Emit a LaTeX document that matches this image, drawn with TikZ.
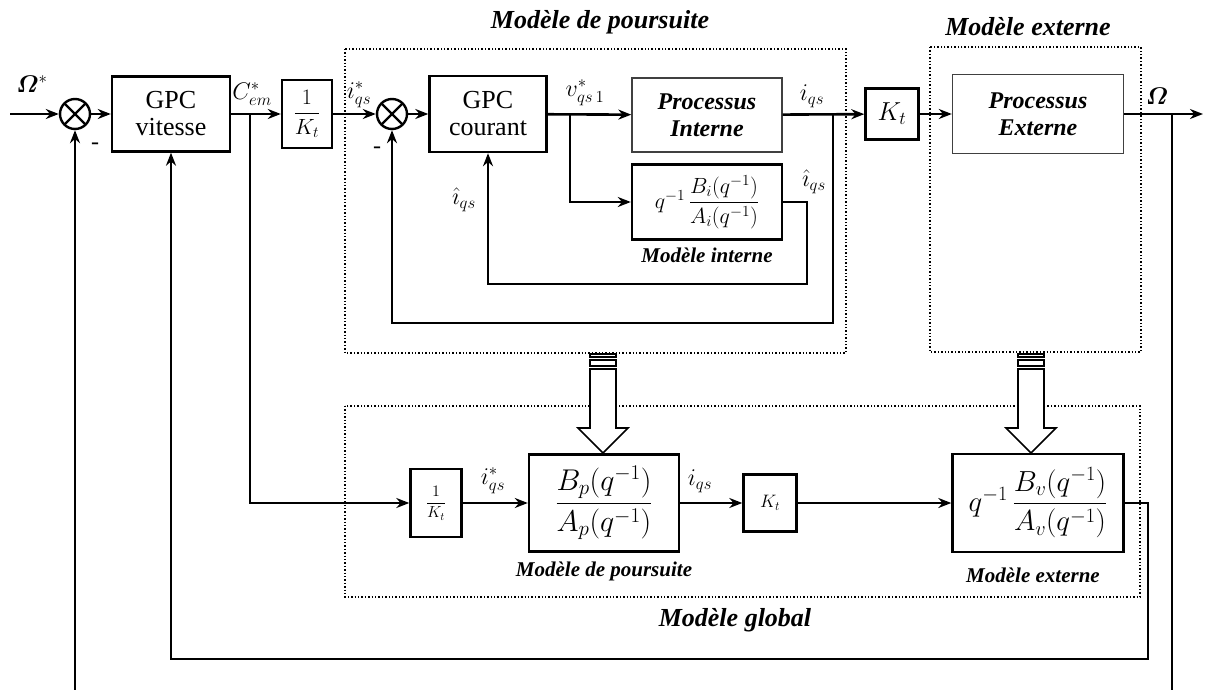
\RequirePackage{fix-cm}
\documentclass[tikz,border=0pt]{standalone}
\usepackage{amsmath}
\usepackage{bm}
\usepackage{fontspec}
\setmainfont{Liberation Serif}
\usetikzlibrary{arrows.meta}

\begin{document}
\begin{tikzpicture}[x=1pt, y=-1pt, line width=2.6pt,
	arr/.style={-{Stealth[length=13pt,width=10pt]}},
	blk/.style={draw, line width=2.4pt, inner sep=0pt, align=center, font=\fontsize{26}{27}\selectfont},
	proc/.style={draw=black!75, line width=1.4pt, inner sep=0pt, align=center, font=\fontsize{24}{27}\selectfont\bfseries\itshape},
	sumx/.style={circle, draw, line width=2.4pt, minimum size=30pt, inner sep=0pt,
		path picture={\draw[line width=2.4pt] (path picture bounding box.north west) -- (path picture bounding box.south east)
			(path picture bounding box.north east) -- (path picture bounding box.south west);}},
	zone/.style={draw, dotted, line width=1.4pt},
	ttl/.style={font=\fontsize{26}{28}\selectfont\bfseries\itshape},
	sttl/.style={font=\fontsize{21}{23}\selectfont\bfseries\itshape},
	lbl/.style={font=\fontsize{24}{26}\selectfont}]
	\useasboundingbox (0,0) rectangle (1205,690);
	%zones
	\draw[zone] (345,49) rectangle (846,353);
	\draw[zone] (930,47) rectangle (1141,352);
	\draw[zone] (345,406) rectangle (1140,597);
	\node[ttl] (tpours) at (600,22) {Modèle de poursuite};
	\node[ttl] (text) at (1028,27) {Modèle externe};
	\node[ttl] (tglob) at (735,620) {Modèle global};
	%top loop
	\node[sumx] (sum1) at (75,114) {};
	\node[blk, minimum width=118pt, minimum height=75pt] (gpcv) at (171,114) {GPC\\vitesse};
	\node[blk, minimum width=50pt, minimum height=68pt, font=\fontsize{22}{24}\selectfont] (kinv) at (307,114) {$\dfrac{1}{K_t}$};
	\node[sumx] (sum2) at (392,114) {};
	\node[blk, minimum width=117pt, minimum height=76pt] (gpcc) at (488,114) {GPC\\courant};
	\node[proc, minimum width=150pt, minimum height=74pt] (procint) at (707,115) {Processus\\Interne};
	\node[blk, minimum width=150pt, minimum height=75pt, font=\fontsize{22}{24}\selectfont] (modint) at (707,202) {$q^{-1}\,\dfrac{B_i(q^{-1})}{A_i(q^{-1})}$};
	\node[sttl] (tint) at (707,255) {Modèle interne};
	\node[blk, minimum width=53pt, minimum height=51pt, font=\fontsize{26}{28}\selectfont] (kt) at (892,114) {$K_t$};
	\node[proc, minimum width=171pt, minimum height=79pt] (procext) at (1038,114) {Processus\\Externe};
	%global model
	\node[blk, minimum width=51pt, minimum height=68pt, font=\fontsize{16}{18}\selectfont] (kinv2) at (436,503) {$\dfrac{1}{K_t}$};
	\node[blk, minimum width=150pt, minimum height=97pt, font=\fontsize{30}{32}\selectfont] (modp) at (604,503) {$\dfrac{B_p(q^{-1})}{A_p(q^{-1})}$};
	\node[sttl] (tmodp) at (604,571) {Modèle de poursuite};
	\node[blk, minimum width=53pt, minimum height=57pt, font=\fontsize{18}{20}\selectfont] (kt2) at (770,503) {$K_t$};
	\node[blk, minimum width=171pt, minimum height=98pt, font=\fontsize{29}{31}\selectfont] (modv) at (1038,503) {$q^{-1}\,\dfrac{B_v(q^{-1})}{A_v(q^{-1})}$};
	\node[sttl] (tmodv) at (1033,575) {Modèle externe};
	%hollow arrows
	\foreach \cx in {603,1031} {
		\draw[line width=1.3pt] (\cx-13,354) rectangle (\cx+13,357);
		\draw[line width=1.3pt] (\cx-13,360) rectangle (\cx+13,366);
		\draw[line width=1.6pt, fill=white] (\cx-13,369) -- (\cx-13,428) -- (\cx-25,428) -- (\cx,453)
			-- (\cx+25,428) -- (\cx+13,428) -- (\cx+13,369) -- cycle;
	}
	%points
	\coordinate (in) at (10,114);
	\coordinate (br1) at (250,114);
	\coordinate (br2) at (570,114);
	\coordinate (br3) at (833,114);
	\coordinate (br4) at (1172,114);
	\coordinate (out) at (1203,114);
	\coordinate (mi) at (807,284);
	\coordinate (pi) at (833,323);
	\coordinate (mv) at (1148,659);
	\coordinate (fbL) at (75,690);
	\coordinate (fbR) at (1172,690);
	%links
	\draw[arr] (in) -- (sum1);
	\draw[arr] (sum1) -- (gpcv);
	\draw[arr] (gpcv) -- (kinv);
	\draw[arr] (kinv) -- (sum2);
	\draw[arr] (sum2) -- (gpcc);
	\draw[arr] (gpcc) -- (procint);
	\draw[arr] (br2) |- (modint);
	\draw[arr] (modint.east) -| (mi) -| (gpcc.south);
	\draw[arr] (procint) -- (kt);
	\draw[arr] (br3) -- (pi) -| (sum2.south);
	\draw[arr] (kt) -- (procext);
	\draw[arr] (procext) -- (out);
	\draw (br4) -- (fbR);
	\draw[arr] (fbL) -- (sum1.south);
	\draw[arr] (br1) |- (kinv2);
	\draw[arr] (kinv2) -- (modp);
	\draw[arr] (modp) -- (kt2);
	\draw[arr] (kt2) -- (modv);
	\draw[arr] (modv.east) -| (mv) -| (gpcv.south);
	%labels
	\node[lbl] (lom) at (32,84) {$\bm{\varOmega}^{*}$};
	\node[lbl] (m1) at (95,146) {-};
	\node[lbl] (m2) at (377,150) {-};
	\node[lbl] (lcem) at (252,94) {$C_{em}^{*}$};
	\node[lbl] (lis) at (359,95) {$i_{qs}^{*}$};
	\node[lbl] (lvs) at (585,93) {$v_{qs\,1}^{*}$};
	\node[lbl] (liq) at (812,96) {$i_{qs}$};
	\node[lbl] (lhat1) at (464,200) {$\hat{\imath}_{qs}$};
	\node[lbl] (lhat2) at (814,182) {$\hat{\imath}_{qs}$};
	\node[lbl] (lom2) at (1157,96) {$\bm{\varOmega}$};
	\node[lbl] (lis2) at (493,481) {$i_{qs}^{*}$};
	\node[lbl] (liq2) at (700,481) {$i_{qs}$};
\end{tikzpicture}
\end{document}
